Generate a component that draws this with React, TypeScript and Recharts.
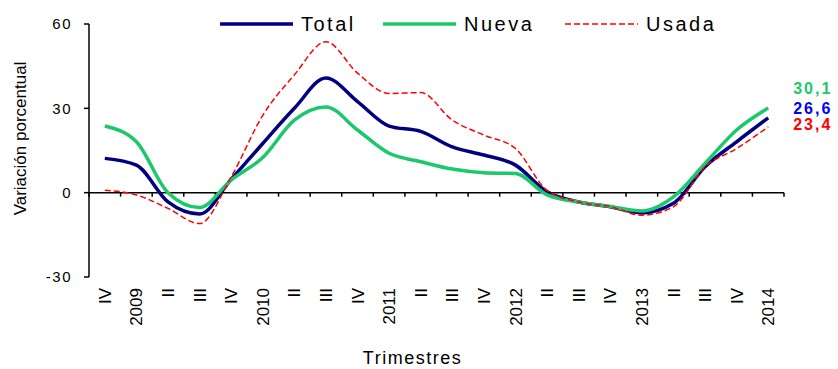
import React from "react";
import { LineChart, Line, XAxis, YAxis, ReferenceLine, Legend, LabelList } from "recharts";

const quarters = [
  "IV", "2009", "II", "III", "IV", "2010", "II", "III", "IV", "2011", "II",
  "III", "IV", "2012", "II", "III", "IV", "2013", "II", "III", "IV", "2014",
];
const total = [12.2, 9.8, -3.3, -7.6, 4.7, 17.5, 30, 40.8, 32.4, 23.7, 21.8, 16.3, 13.4, 9.8, 0.3, -3.3, -5, -7.2, -3.8, 9.2, 18.1, 26.6];
const nueva = [23.7, 18.1, 0, -5.3, 4.5, 12.5, 25.8, 30.5, 22.3, 14, 11, 8.4, 7.1, 6.8, -0.8, -3.3, -4.9, -6.5, -1.5, 10.4, 22.3, 30.1];
const usada = [0.9, -0.8, -5.6, -11, 5.6, 27.5, 41.9, 53.7, 42.5, 35.3, 35.6, 25.8, 20.5, 15.7, 0.8, -3.3, -5, -8, -5, 9.2, 15.7, 23.4];
const yTicks = [-30, 0, 30, 60];

const series = [
  { key: "total", name: "Total", color: "#000080", width: 3.5, dash: undefined, last: "26,6", labelColor: "#0000FF", dy: -4 },
  { key: "nueva", name: "Nueva", color: "#1CC86C", width: 3.5, dash: undefined, last: "30,1", labelColor: "#1CC86C", dy: -14.5 },
  { key: "usada", name: "Usada", color: "#FF0000", width: 1.5, dash: "6 3", last: "23,4", labelColor: "#FF0000", dy: 3 },
];

const data = quarters.map((q, i) => ({ i, q, total: total[i], nueva: nueva[i], usada: usada[i] }));

const FONT = "'Liberation Sans', Arial, sans-serif";

function XTick(props: any) {
  const { x, y, payload } = props;
  return (
    <text
      x={x}
      y={y}
      transform={`rotate(-90, ${x}, ${y})`}
      textAnchor="end"
      dy="0.36em"
      fontSize={17}
      fontFamily={FONT}
      fill="#000"
    >
      {quarters[payload.value]}
    </text>
  );
}

// tick marks along the zero line, at the boundaries between quarters
function ZeroTicks(props: any) {
  const vb = props.viewBox;
  if (!vb) return null;
  const step = vb.width / quarters.length;
  return (
    <g>
      {Array.from({ length: quarters.length + 1 }, (_, k) => (
        <line key={k} x1={vb.x + k * step} x2={vb.x + k * step} y1={vb.y} y2={vb.y + 4} stroke="#000" strokeWidth={1.5} />
      ))}
    </g>
  );
}

function endLabel(text: string, color: string, dy: number) {
  return (props: any) => {
    if (props.index !== quarters.length - 1) return null;
    return (
      <text x={props.x + 25} y={props.y + dy} fill={color} fontSize={16} fontWeight="bold" fontFamily={FONT} letterSpacing={2}>
        {text}
      </text>
    );
  };
}

function LegendBox() {
  const starts = [2, 165, 347];
  return (
    <svg width={520} height={30}>
      {series.map((s, k) => (
        <g key={s.key}>
          <line x1={starts[k]} x2={starts[k] + 73} y1={15} y2={15} stroke={s.color} strokeWidth={s.width} strokeDasharray={s.dash} />
          <text x={starts[k] + 81} y={22} fontSize={20} fontFamily={FONT} letterSpacing={2.5} fill="#000">
            {s.name}
          </text>
        </g>
      ))}
    </svg>
  );
}

export default function App() {
  return (
    <div style={{ position: "fixed", left: 0, top: 0, background: "#fff" }}>
      <LineChart width={838} height={369} data={data} margin={{ top: 24, right: 54, bottom: 0, left: 29 }}>
        <XAxis
          dataKey="i"
          type="category"
          scale="band"
          interval={0}
          axisLine={false}
          tickLine={false}
          tickSize={0}
          tickMargin={11}
          height={92}
          tick={<XTick />}
          label={(p: any) => (
            <text
              x={p.viewBox.x + p.viewBox.width / 2 - 24}
              y={p.viewBox.y + p.viewBox.height - 5}
              textAnchor="middle"
              fontSize={18}
              letterSpacing={1.5}
              fontFamily={FONT}
              fill="#000"
            >
              Trimestres
            </text>
          )}
        />
        <YAxis
          domain={[-30, 60]}
          ticks={yTicks}
          interval={0}
          width={60}
          tickSize={5}
          tickMargin={12}
          axisLine={{ stroke: "#000", strokeWidth: 1.5 }}
          tickLine={{ stroke: "#000", strokeWidth: 1.5 }}
          tick={{ fontSize: 15, fontFamily: FONT, fill: "#000", letterSpacing: 1.5 }}
          label={(p: any) => {
            const cx = p.viewBox.x - 9;
            const cy = p.viewBox.y + p.viewBox.height / 2 - 12;
            return (
              <text x={cx} y={cy} transform={`rotate(-90, ${cx}, ${cy})`} textAnchor="middle" dy="0.36em" fontSize={17} fontFamily={FONT} fill="#000">
                Variación porcentual
              </text>
            );
          }}
        />
        <ReferenceLine y={0} stroke="#000" strokeWidth={1.5} label={<ZeroTicks />} />
        <Legend
          layout="horizontal"
          verticalAlign="middle"
          align="center"
          wrapperStyle={{ top: 9, left: 218, width: 520 }}
          content={() => <LegendBox />}
        />
        {series.map((s) => (
          <Line
            key={s.key}
            type="monotone"
            dataKey={s.key}
            name={s.name}
            stroke={s.color}
            strokeWidth={s.width}
            strokeDasharray={s.dash}
            dot={false}
            activeDot={false}
            isAnimationActive={false}
          >
            <LabelList dataKey={s.key} content={endLabel(s.last, s.labelColor, s.dy)} />
          </Line>
        ))}
      </LineChart>
    </div>
  );
}
